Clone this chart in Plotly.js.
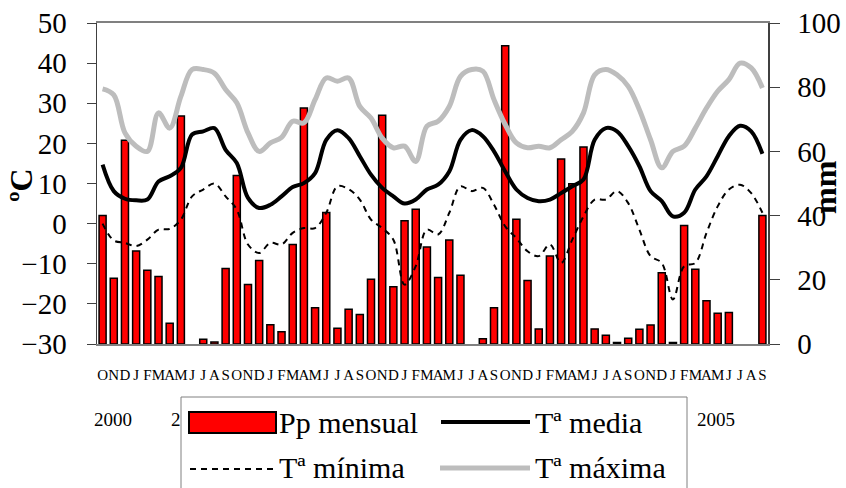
<!DOCTYPE html>
<html>
<head>
<meta charset="utf-8">
<script src="https://cdn.plot.ly/plotly-3.0.1.min.js"></script>
<style>
  html, body { margin: 0; padding: 0; background: #ffffff; }
  #chart { width: 846px; height: 488px; }
</style>
</head>
<body>
<div id="chart"></div>
<script>
// Months Oct 2000 .. Sep 2005 (60 months)
const monthLetters = ['O','N','D','J','F','M','A','M','J','J','A','S'];
const yearLabels = ['2000', '2', '2005'];

// Monthly precipitation (mm), right axis
const ppMensual = [40, 20.5, 63.5, 29, 23, 21, 6.5, 71, 0, 1.5, 0.6, 23.5,
                   52.5, 18.5, 26, 6, 3.8, 31, 73.5, 11.3, 41, 4.9, 10.8, 9.2,
                   20.2, 71.3, 17.8, 38.4, 42, 30.2, 20.7, 32.4, 21.4, 0, 1.6, 11.3,
                   92.9, 38.9, 19.8, 4.7, 27.4, 57.6, 49.9, 61.4, 4.7, 2.7, 0.5, 1.8,
                   4.6, 5.9, 22.2, 0.5, 36.9, 23.3, 13.5, 9.6, 9.8, 0, 0, 40];

// Mean temperature (ºC), left axis
const tMedia = [14.7, 8.1, 6.2, 5.8, 6.0, 10.5, 11.8, 13.9, 22.2, 23.0, 23.8, 18.4,
                15.1, 6.4, 3.9, 4.7, 6.8, 9.1, 10.1, 12.6, 20.9, 23.3, 21.3, 16.8,
                12.2, 8.9, 6.8, 5.0, 6.0, 8.5, 9.7, 13.0, 20.9, 23.3, 21.8, 18.0,
                13.0, 8.5, 6.4, 5.6, 6.0, 7.6, 9.3, 11.0, 20.9, 23.8, 23.0, 19.3,
                14.3, 8.1, 5.6, 1.8, 2.7, 8.5, 11.8, 16.8, 21.8, 24.4, 23.0, 17.4];

// Minimum temperature (ºC)
const tMinima = [0.0, -4.2, -4.8, -5.6, -4.0, -1.5, -1.3, 1.0, 6.8, 8.5, 10.0, 6.8,
                 3.5, -5.2, -7.3, -4.8, -5.2, -2.3, -1.1, -1.1, 2.7, 9.3, 8.6, 6.0,
                 1.0, -1.1, -4.0, -15.2, -10.6, -1.5, -2.7, 2.7, 9.3, 8.1, 8.9, 4.7,
                 -0.7, -3.6, -6.9, -8.1, -5.2, -9.8, -4.0, 1.8, 6.0, 6.0, 8.1, 5.1,
                 -1.5, -8.1, -9.8, -18.9, -10.6, -9.8, -2.3, 4.3, 8.5, 9.7, 7.6, 2.7];

// Maximum temperature (ºC)
const tMaxima = [33.6, 32.1, 22.6, 19.3, 18.0, 27.6, 23.8, 31.7, 38.4, 38.4, 37.5, 33.4,
                 30.1, 22.6, 18.0, 20.1, 21.5, 25.5, 25.1, 30.9, 36.3, 35.5, 36.3, 29.2,
                 26.3, 21.3, 18.9, 19.3, 15.5, 24.3, 25.5, 29.2, 36.7, 38.4, 38.0, 30.9,
                 24.7, 20.1, 18.9, 19.3, 18.9, 20.9, 23.0, 27.6, 37.1, 38.4, 37.1, 34.2,
                 28.4, 20.9, 13.9, 18.0, 19.3, 23.8, 28.8, 33.0, 35.9, 40.0, 38.8, 33.8];

const seriesNames = ['Pp mensual', 'Tª media', 'Tª mínima', 'Tª máxima'];
const leftTicks = [-30, -20, -10, 0, 10, 20, 30, 40, 50];
const rightTicks = [0, 20, 40, 60, 80, 100];

// ---- build ----
const n = ppMensual.length;
const xIdx = ppMensual.map((_, i) => i);
const tickText = xIdx.map(i => monthLetters[i % 12]);

const SERIF = '"Liberation Serif", "Times New Roman", Times, serif';
const L = 97, R = 768, T = 23, B = 344;
const px = x => (x - L) / (R - L);
const py = y => (B - y) / (B - T);

const traces = [
  { type: 'bar', x: xIdx, y: ppMensual, name: seriesNames[0], xaxis: 'x', yaxis: 'y',
    marker: { color: '#FF0000', line: { color: '#000000', width: ppMensual.map(v => v > 0 ? 1.5 : 0) } },
    showlegend: false },
  { type: 'scatter', mode: 'lines', x: xIdx, y: tMaxima, name: seriesNames[3], xaxis: 'x', yaxis: 'y2',
    line: { color: '#BDBDBD', width: 5, shape: 'spline' }, showlegend: false },
  { type: 'scatter', mode: 'lines', x: xIdx, y: tMinima, name: seriesNames[2], xaxis: 'x', yaxis: 'y2',
    line: { color: '#000000', width: 2, shape: 'spline', dash: '6px,5px' }, showlegend: false },
  { type: 'scatter', mode: 'lines', x: xIdx, y: tMedia, name: seriesNames[1], xaxis: 'x', yaxis: 'y2',
    line: { color: '#000000', width: 4, shape: 'spline' }, showlegend: false }
];

const shapes = [
  // legend box
  { type: 'rect', xref: 'paper', yref: 'paper', x0: px(181), x1: px(687), y0: py(397), y1: py(492),
    fillcolor: '#FFFFFF', line: { color: '#808080', width: 1 }, layer: 'above' },
  // Pp swatch
  { type: 'rect', xref: 'paper', yref: 'paper', x0: px(189), x1: px(276), y0: py(412), y1: py(433),
    fillcolor: '#FF0000', line: { color: '#000000', width: 2 }, layer: 'above' },
  // Tª media
  { type: 'line', xref: 'paper', yref: 'paper', x0: px(441), x1: px(530), y0: py(422), y1: py(422),
    line: { color: '#000000', width: 4 }, layer: 'above' },
  // Tª mínima
  { type: 'line', xref: 'paper', yref: 'paper', x0: px(190), x1: px(276), y0: py(469), y1: py(469),
    line: { color: '#000000', width: 2, dash: '6px,5px' }, layer: 'above' },
  // Tª máxima
  { type: 'line', xref: 'paper', yref: 'paper', x0: px(440), x1: px(530), y0: py(468), y1: py(468),
    line: { color: '#BDBDBD', width: 5 }, layer: 'above' }
];

const legFont = { family: SERIF, size: 30, color: '#000000' };
const yearFont = { family: SERIF, size: 19, color: '#000000' };
function ann(text, x, y, xanchor, font, angle) {
  return { text: text, xref: 'paper', yref: 'paper', x: px(x), y: py(y), showarrow: false,
           xanchor: xanchor, yanchor: 'middle', textangle: angle || 0, font: font };
}
const annotations = [
  ann('<b>ºC</b>', 21, 185, 'center', { family: SERIF, size: 32, color: '#000000' }, -90),
  ann('<b>mm</b>', 825, 187, 'center', { family: SERIF, size: 32, color: '#000000' }, -90),
  ann(yearLabels[0], 113, 419, 'center', yearFont),
  ann(yearLabels[1], 183, 419, 'right', yearFont),
  ann(yearLabels[2], 716, 419, 'center', yearFont),
  ann(seriesNames[0], 277, 422, 'left', legFont),
  ann(seriesNames[1], 533, 422, 'left', legFont),
  ann(seriesNames[2], 277, 467, 'left', legFont),
  ann(seriesNames[3], 533, 467, 'left', legFont)
];

const layout = {
  width: 846, height: 488,
  margin: { l: L, r: 846 - R, t: T, b: 488 - B, pad: 0 },
  paper_bgcolor: '#FFFFFF', plot_bgcolor: '#FFFFFF',
  showlegend: false,
  bargap: 0.37,
  font: { family: SERIF, color: '#000000' },
  xaxis: {
    range: [-0.5, n - 0.5], tickmode: 'array', tickvals: xIdx, ticktext: tickText,
    tickangle: 0,
    ticks: '', showgrid: false, zeroline: false,
    showline: true, mirror: true, linecolor: '#808080', linewidth: 2,
    tickfont: { family: SERIF, size: 15, color: '#000000' }, ticklabelstandoff: 16,
    fixedrange: true
  },
  yaxis: {
    side: 'right', range: [0, 100], tickmode: 'array', tickvals: rightTicks,
    ticks: 'outside', ticklen: 10, tickcolor: '#404040', tickwidth: 1,
    showline: true, linecolor: '#404040', linewidth: 1.5,
    showgrid: false, zeroline: false,
    tickfont: { family: SERIF, size: 29, color: '#000000' }, ticklabelstandoff: 12
  },
  yaxis2: {
    side: 'left', overlaying: 'y', range: [-30, 50], tickmode: 'array', tickvals: leftTicks,
    ticks: 'outside', ticklen: 9, tickcolor: '#404040', tickwidth: 1,
    showline: true, linecolor: '#404040', linewidth: 1.5,
    showgrid: false, zeroline: false,
    tickfont: { family: SERIF, size: 29, color: '#000000' }, ticklabelstandoff: 14
  },
  shapes: shapes,
  annotations: annotations
};

Plotly.newPlot('chart', traces, layout, { staticPlot: true, displayModeBar: false });
</script>
</body>
</html>
